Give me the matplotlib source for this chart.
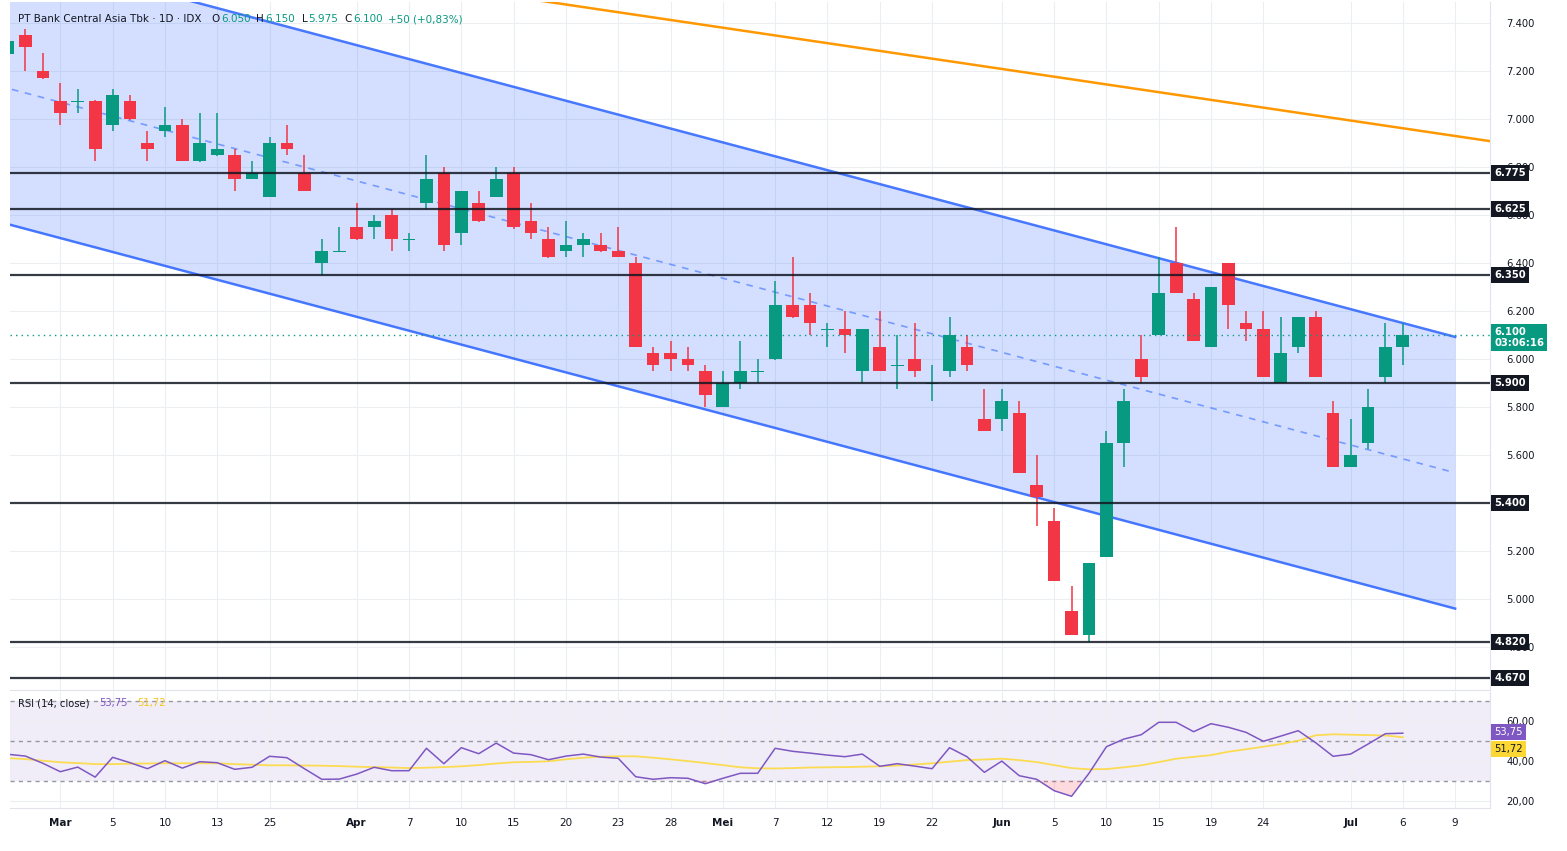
import matplotlib
matplotlib.use("Agg")
import matplotlib.pyplot as plt
from matplotlib.transforms import blended_transform_factory

W, H = 1567, 851

# daily candles (index 0 = first visible bar)
opens = [7270, 7350, 7200, 7075, 7070, 7075, 6975, 7075, 6900, 6950,
         6975, 6825, 6850, 6850, 6750, 6675, 6900, 6775, 6400, 6445,
         6550, 6550, 6600, 6495, 6650, 6775, 6525, 6650, 6675, 6775,
         6575, 6500, 6450, 6475, 6475, 6450, 6400, 6025, 6025, 6000,
         5950, 5800, 5900, 5945, 6000, 6225, 6225, 6120, 6125, 5950,
         6050, 5970, 6000, 5895, 5950, 6050, 5750, 5750, 5775, 5475,
         5325, 4950, 4850, 5175, 5650, 6000, 6100, 6400, 6250, 6050,
         6400, 6150, 6125, 5900, 6050, 6175, 5775, 5550, 5650, 5925,
         6050]
highs = [7340, 7375, 7275, 7150, 7125, 7080, 7125, 7100, 6950, 7050,
         7000, 7025, 7025, 6875, 6825, 6925, 6975, 6850, 6500, 6550,
         6650, 6600, 6625, 6525, 6850, 6800, 6700, 6700, 6800, 6800,
         6650, 6550, 6575, 6525, 6525, 6550, 6425, 6050, 6075, 6050,
         5975, 5950, 6075, 6000, 6325, 6425, 6275, 6150, 6200, 6125,
         6200, 6100, 6150, 5975, 6175, 6100, 5875, 5875, 5825, 5600,
         5380, 5055, 5150, 5700, 5875, 6100, 6425, 6550, 6275, 6300,
         6400, 6200, 6200, 6175, 6175, 6200, 5825, 5750, 5875, 6150,
         6150]
lows = [7260, 7200, 7165, 6975, 7025, 6825, 6950, 6995, 6825, 6925,
        6825, 6820, 6845, 6700, 6750, 6675, 6850, 6700, 6350, 6445,
        6495, 6500, 6450, 6450, 6625, 6450, 6475, 6570, 6675, 6540,
        6500, 6420, 6425, 6425, 6445, 6425, 6050, 5950, 5950, 5950,
        5800, 5800, 5875, 5900, 5995, 6170, 6100, 6050, 6025, 5900,
        5950, 5875, 5925, 5825, 5925, 5950, 5700, 5700, 5525, 5305,
        5075, 4850, 4820, 5175, 5550, 5900, 6100, 6275, 6075, 6050,
        6125, 6075, 5925, 5900, 6025, 5925, 5550, 5550, 5625, 5900,
        5975]
closes = [7325, 7300, 7170, 7025, 7075, 6875, 7100, 7000, 6875, 6975,
          6825, 6900, 6875, 6750, 6775, 6900, 6875, 6700, 6450, 6450,
          6500, 6575, 6500, 6500, 6750, 6475, 6700, 6575, 6750, 6550,
          6525, 6425, 6475, 6500, 6450, 6425, 6050, 5975, 6000, 5975,
          5850, 5900, 5950, 5950, 6225, 6175, 6150, 6125, 6100, 6125,
          5950, 5975, 5950, 5900, 6100, 5975, 5700, 5825, 5525, 5425,
          5075, 4850, 5150, 5650, 5825, 5925, 6275, 6275, 6075, 6300,
          6225, 6125, 5925, 6025, 6175, 5925, 5550, 5600, 5800, 6050,
          6100]

rsi = [43.2, 42.3, 38.7, 34.5, 36.8, 31.8, 41.7, 39, 36, 40,
       36.3, 39.5, 39, 35.7, 36.7, 42.2, 41.5, 36, 30.7, 30.8,
       33.3, 36.7, 35, 35, 46.2, 38.5, 46.5, 43.5, 48.8, 43.8,
       43, 40.5, 42.3, 43.3, 41.8, 41.2, 32, 30.7, 31.5, 31.2,
       28.5, 31.2, 33.7, 33.7, 46.2, 44.7, 43.8, 42.8, 42, 43.3,
       37.2, 38.5, 37.3, 36, 46.5, 42, 34.2, 39.8, 32.5, 30.7,
       25, 22.2, 33.7, 47, 50.8, 53, 59.2, 59.2, 54.5, 58.5,
       56.7, 54.2, 49.7, 52.3, 55, 49, 42.2, 43.3, 48.3, 53.5,
       53.75]
rsi_ma = [41.3, 40.8, 40, 39.2, 38.8, 38.3, 38.3, 38.5, 38.6, 38.7,
          38.7, 38.7, 38.7, 38.3, 38, 37.7, 37.7, 37.6, 37.5, 37.3,
          37, 36.8, 36.6, 36.3, 36.5, 36.8, 37.2, 37.8, 38.6, 39.2,
          39.4, 39.7, 40.7, 41.5, 42, 42.2, 42.2, 41.5, 40.7, 39.8,
          38.8, 37.8, 36.7, 36.2, 36.1, 36.3, 36.6, 36.7, 36.8, 37,
          37.2, 37.6, 38.1, 38.7, 39.5, 40.3, 40.6, 41, 40.3, 39.3,
          37.8, 36.3, 35.7, 35.8, 36.7, 37.7, 39.3, 41, 41.9, 42.8,
          44.5, 45.7, 47, 48.3, 50, 52.7, 53.2, 53, 52.8, 52.6,
          51.72]

tick_pos = [3, 6, 9, 12, 15, 20, 23, 26, 29, 32, 35, 38, 41, 44, 47, 50, 53,
            57, 60, 63, 66, 69, 72, 77, 80, 83]
tick_labels = ['Mar', '5', '10', '13', '25', 'Apr', '7', '10', '15', '20', '23',
               '28', 'Mei', '7', '12', '19', '22', 'Jun', '5', '10', '15', '19',
               '24', 'Jul', '6', '9']
months = {'Mar', 'Apr', 'Mei', 'Jun', 'Jul'}

levels = [6775, 6625, 6350, 5900, 5400, 4820, 4670]
last_price = 6100

# drawings: (bar index, price) end points
channel_x = [-1, 83]
channel_upper = [7713, 6092]
channel_lower = [6581, 4960]
resist_x = [20, 86]
resist_y = [7606, 6897]

UP, DOWN = '#089981', '#f23645'
DARK = '#131722'
BLUE = '#2962ff'
GRID = '#eceef2'

fig = plt.figure(figsize=(W / 100, H / 100), dpi=100)
ax = fig.add_axes([10 / W, 1 - 690 / H, 1480 / W, 688 / H])
ax_rsi = fig.add_axes([10 / W, 1 - 808 / H, 1480 / W, 116 / H], sharex=ax)

# ---- price pane
x = list(range(len(closes)))
colors = [UP if c >= o else DOWN for o, c in zip(opens, closes)]
ax.vlines(x, lows, highs, colors=colors, lw=1.1, zorder=3)
ax.bar(x, [c - o for o, c in zip(opens, closes)], bottom=opens, width=0.73,
       color=colors, zorder=3)

ax.fill_between(channel_x, channel_lower, channel_upper, color=BLUE, alpha=0.2,
                lw=0, zorder=1)
ax.plot(channel_x, channel_upper, color=BLUE, lw=1.8, alpha=0.85, zorder=2)
ax.plot(channel_x, channel_lower, color=BLUE, lw=1.8, alpha=0.85, zorder=2)
mid = [(a + b) / 2 for a, b in zip(channel_upper, channel_lower)]
ax.plot(channel_x, mid, color=BLUE, lw=1.2, alpha=0.55, ls=(0, (4, 4)), zorder=2)
ax.plot(resist_x, resist_y, color='#ff9800', lw=1.8, zorder=2)

for lvl in levels:
    ax.axhline(lvl, color=DARK, lw=1.6, alpha=0.85, zorder=4)
ax.axhline(last_price, color=UP, lw=1, ls=(0, (1, 3)), zorder=4)

ax.set_xlim(0.115, 85.0)
ax.set_ylim(4620.8, 7487.5)
# 5.400 is fully hidden behind its level label, so leave it out
price_ticks = [t for t in range(4800, 7401, 200) if t not in levels]
ax.set_yticks(price_ticks)
ax.set_yticklabels([f"{t:,}".replace(',', '.') for t in price_ticks])
ax.yaxis.tick_right()
ax.tick_params(axis='y', length=0, pad=12, labelsize=7.2, labelcolor=DARK)
ax.tick_params(axis='x', length=0, labelbottom=False)
ax.set_xticks(tick_pos)
ax.grid(True, color=GRID, lw=0.8, zorder=0)
ax.set_axisbelow(True)
for s in ['top', 'left']:
    ax.spines[s].set_visible(False)
for s in ['right', 'bottom']:
    ax.spines[s].set_color('#e0e3eb')

tr = blended_transform_factory(ax.transAxes, ax.transData)
for lvl in levels:
    ax.text(1.003, lvl, f"{lvl:,}".replace(',', '.'), transform=tr, ha='left',
            va='center', fontsize=7.2, fontweight='bold', color='white',
            bbox=dict(boxstyle='square,pad=0.3', fc=DARK, ec='none'),
            clip_on=False, zorder=10)
ax.text(1.003, 6133, "6.100\n03:06:16", transform=tr, ha='left', va='top',
        fontsize=7.2, fontweight='bold', color='white', linespacing=1.1,
        bbox=dict(boxstyle='square,pad=0.3', fc=UP, ec='none'),
        clip_on=False, zorder=10)

# ---- RSI pane
ax_rsi.axhspan(30, 70, color='#7e57c2', alpha=0.1, lw=0, zorder=0)
for v in (70, 50, 30):
    ax_rsi.axhline(v, color='#9598a1', lw=1, ls=(0, (3, 3)), zorder=1)
ax_rsi.fill_between(x, rsi, 30, where=[r < 30 for r in rsi], interpolate=True,
                    color=DOWN, alpha=0.18, lw=0, zorder=1)
ax_rsi.plot(x, rsi_ma, color='#fdd835', lw=1.3, alpha=0.85, zorder=2)
ax_rsi.plot(x, rsi, color='#7e57c2', lw=1.1, zorder=3)
ax_rsi.set_ylim(16.35, 74.35)
ax_rsi.set_yticks([20, 40, 60])
ax_rsi.set_yticklabels(['20,00', '40,00', '60,00'])
ax_rsi.yaxis.tick_right()
ax_rsi.tick_params(axis='y', length=0, pad=12, labelsize=7.2, labelcolor=DARK)
ax_rsi.set_xticks(tick_pos)
ax_rsi.set_xticklabels(tick_labels)
ax_rsi.tick_params(axis='x', length=0, pad=7, labelsize=7.5, labelcolor=DARK)
for lab in ax_rsi.get_xticklabels():
    if lab.get_text() in months:
        lab.set_fontweight('bold')
ax_rsi.grid(True, color=GRID, lw=0.8, zorder=0)
ax_rsi.set_axisbelow(True)
for s in ['top', 'left']:
    ax_rsi.spines[s].set_visible(False)
for s in ['right', 'bottom']:
    ax_rsi.spines[s].set_color('#e0e3eb')

tr2 = blended_transform_factory(ax_rsi.transAxes, ax_rsi.transData)
ax_rsi.text(1.003, 54.35, "53,75", transform=tr2, ha='left', va='center',
            fontsize=7.2, color='white',
            bbox=dict(boxstyle='square,pad=0.3', fc='#7e57c2', ec='none'),
            clip_on=False, zorder=10)
ax_rsi.text(1.003, 45.85, "51,72", transform=tr2, ha='left', va='center',
            fontsize=7.2, color=DARK,
            bbox=dict(boxstyle='square,pad=0.3', fc='#fdd835', ec='none'),
            clip_on=False, zorder=10)

# ---- legends / header text
renderer = fig.canvas.get_renderer()


def write_row(parts, px, py, size):
    for txt, col, gap in parts:
        t = fig.text(px / W, 1 - py / H, txt, color=col, fontsize=size,
                     ha='left', va='center')
        px += t.get_window_extent(renderer).width + gap


write_row([("PT Bank Central Asia Tbk · 1D · IDX", DARK, 10),
           ("O", DARK, 1), ("6.050", UP, 6),
           ("H", DARK, 1), ("6.150", UP, 7),
           ("L", DARK, 1), ("5.975", UP, 6),
           ("C", DARK, 1), ("6.100", UP, 6),
           ("+50 (+0,83%)", UP, 0)], 18, 19, 7.5)
write_row([("RSI (14, close)", DARK, 10), ("53,75", '#7e57c2', 9),
           ("51,72", '#f5c518', 0)], 18, 703, 7.2)

fig.savefig('out.png', dpi=100, facecolor='white')
